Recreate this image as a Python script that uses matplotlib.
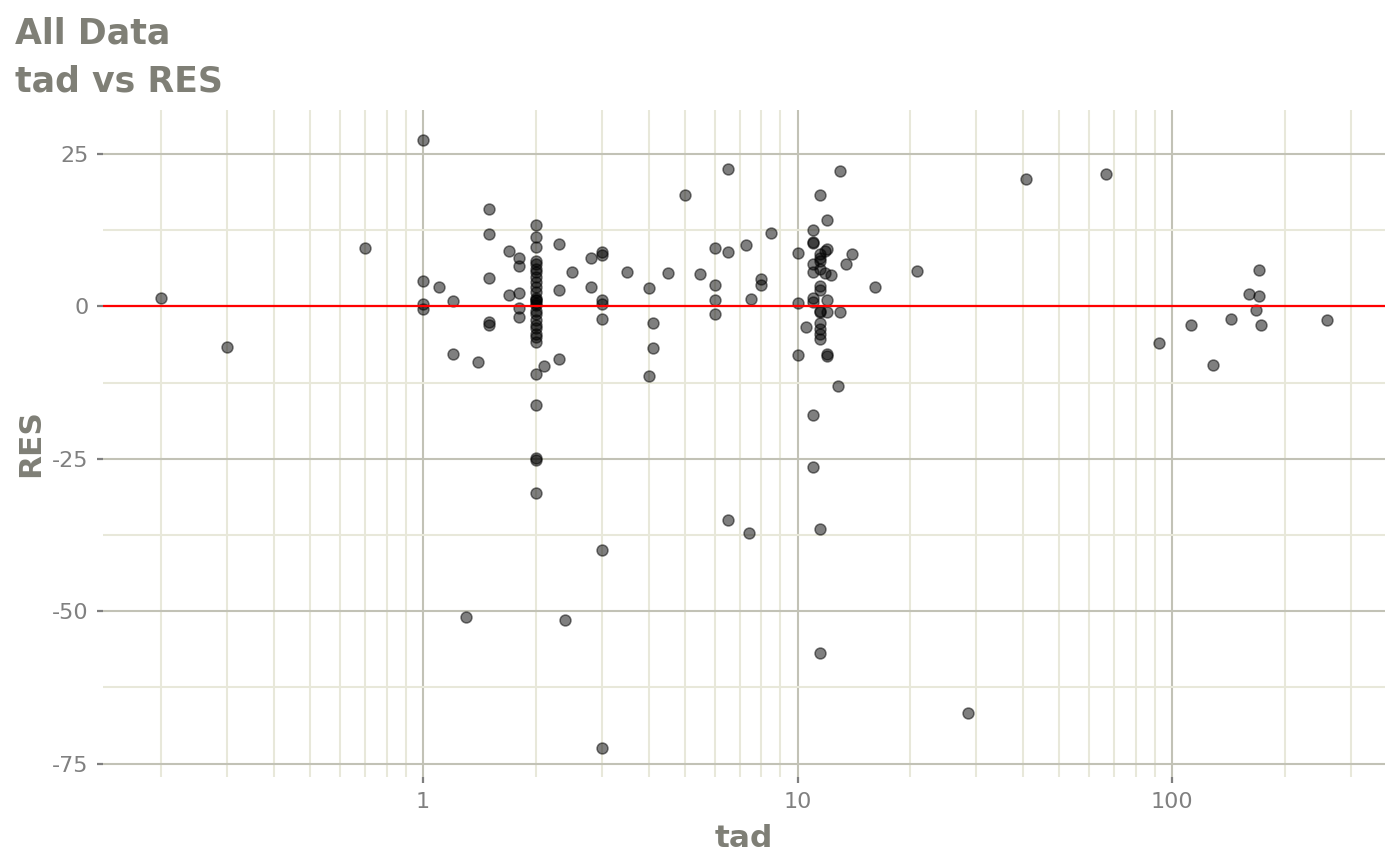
import matplotlib
matplotlib.use("Agg")
import matplotlib.pyplot as plt

# ---- data ----
tad = [
    0.2, 0.3, 0.7,
    1, 1, 1, 1,
    1.1, 1.2, 1.2, 1.3, 1.4,
    1.5, 1.5, 1.5, 1.5, 1.5,
    1.7, 1.7,
    1.8, 1.8, 1.8, 1.8, 1.8,
    2, 2, 2, 2, 2, 2, 2, 2, 2, 2, 2, 2, 2, 2, 2, 2, 2, 2, 2, 2, 2, 2, 2, 2, 2, 2, 2, 2, 2,
    2.1, 2.3, 2.3, 2.3, 2.4, 2.5, 2.8, 2.8,
    3, 3, 3, 3, 3, 3, 3,
    3.5, 4.0, 4.0, 4.1, 4.1, 4.5, 5.0, 5.5,
    6.0, 6.0, 6.0, 6.0,
    6.5, 6.5, 6.5,
    7.3, 7.4, 7.5, 8.0, 8.0, 8.5,
    10, 10, 10, 10.5,
    11.0, 11.0, 11.0, 11.0, 11.0, 11.0, 11.0, 11.0, 11.0,
    11.5, 11.5, 11.5, 11.5, 11.5, 11.5, 11.5, 11.5, 11.5, 11.5, 11.5, 11.5, 11.5, 11.5, 11.5,
    11.8, 11.8,
    12.0, 12.0, 12.0, 12.0, 12.0, 12.0,
    12.3, 12.85, 13.0, 13.0, 13.5, 14.0, 16.1, 20.8, 28.5, 40.6, 66.4,
    92, 112, 128.5, 143.5, 160, 170.4, 170.4, 167.3, 172.9, 259.4,
]
res = [
    1.3, -6.7, 9.5,
    27.2, 4.2, 0.4, -0.5,
    3.2, 0.9, -7.9, -50.9, -9.2,
    15.9, 11.9, 4.7, -2.6, -3.0,
    9.0, 1.9,
    7.9, 6.6, 2.2, -0.2, -1.7,
    13.3, 11.3, 9.8, 7.5, 7.0, 6.2, 5.6, 4.8, 4.0, 3.2, 2.4, 1.4, 1.1, 1.0, 0.6, 0.2, -0.7,
    -1.3, -2.3, -3.1, -3.5, -4.5, -5.0, -5.9, -11.1, -16.2, -24.9, -25.2, -30.6,
    -9.8, 10.2, 2.7, -8.7, -51.4, 5.6, 8.0, 3.1,
    8.9, 8.4, 1.0, 0.4, -2.1, -40.0, -72.4,
    5.6, 3.0, -11.5, -2.8, -6.9, 5.5, 18.2, 5.3,
    9.5, 3.5, 1.0, -1.2,
    22.6, 8.9, -35.1,
    10.0, -37.2, 1.2, 4.4, 3.5, 12.0,
    8.7, 0.6, -8.0, -3.4,
    12.5, 10.4, 10.6, 7.0, 5.6, 1.3, 0.7, -17.9, -26.3,
    18.2, 8.6, 8.0, 7.5, 6.2, 3.4, 2.6, -0.7, -1.0, -2.8, -3.7, -4.5, -5.3, -36.5, -56.9,
    5.4, 9.0,
    14.1, 9.45, 1.0, -0.9, -7.9, -8.2,
    5.1, -13.1, 22.2, -0.9, 6.9, 8.6, 3.1, 5.8, -66.7, 20.9, 21.75,
    -6.0, -3.1, -9.7, -2.1, 2.1, 6.0, 1.75, -0.55, -3.1, -2.2,
]

x_major = [1, 10, 100]
x_major_labels = ["1", "10", "100"]
y_major = [-75, -50, -25, 0, 25]
y_major_labels = ["-75", "-50", "-25", "0", "25"]
y_minor = [-62.5, -37.5, -12.5, 12.5]

title_lines = ["All Data", "tad vs RES"]
xlabel = "tad"
ylabel = "RES"

XLIM = (0.1398, 370)
YLIM = (-77.2, 32.2)
x_minor = [m * d for d in (0.1, 1, 10, 100) for m in range(2, 10)
           if XLIM[0] <= m * d <= XLIM[1]]

# ---- styling ----
TXT = "#7f7f76"
TICKTXT = "#808080"
MAJ = "#c2c2b6"
MIN = "#e8e8da"

W, H = 1400, 865
fig = plt.figure(figsize=(W / 100, H / 100), dpi=100)
L, R, T, B = 103, 1385, 110, 777
ax = fig.add_axes([L / W, 1 - B / H, (R - L) / W, (B - T) / H])
ax.set_xscale("log")

ax.set_xticks(x_major)
ax.set_xticklabels(x_major_labels)
ax.set_xticks(x_minor, minor=True)
ax.set_xticklabels([], minor=True)
ax.set_yticks(y_major)
ax.set_yticklabels(y_major_labels)
ax.set_yticks(y_minor, minor=True)
ax.set_xlim(*XLIM)
ax.set_ylim(*YLIM)

ax.grid(which="major", color=MAJ, linewidth=1.5, zorder=0)
ax.grid(which="minor", color=MIN, linewidth=1.5, zorder=0)
ax.set_axisbelow(True)
for s in ax.spines.values():
    s.set_visible(False)

ax.tick_params(which="major", length=4.5, width=1.6, color="#7f7f7f",
               labelsize=16, labelcolor=TICKTXT, pad=6)
ax.tick_params(which="minor", length=0)

ax.scatter(tad, res, s=62, facecolor=(0, 0, 0, 0.5), edgecolor=(0, 0, 0, 0.5),
           linewidth=1.1, zorder=2)
ax.axhline(0, color="#ff0000", linewidth=1.6, zorder=3)

fig.text(15 / W, 1 - 44 / H, title_lines[0], fontsize=25, fontweight="bold",
         color=TXT, ha="left", va="baseline")
fig.text(15 / W, 1 - 91 / H, title_lines[1], fontsize=25, fontweight="bold",
         color=TXT, ha="left", va="baseline")
fig.text((L + R) / 2 / W, 1 - 847 / H, xlabel, fontsize=22.5, fontweight="bold",
         color=TXT, ha="center", va="baseline")
fig.text(31 / W, 1 - (T + B) / 2 / H, ylabel, fontsize=22.5, fontweight="bold",
         color=TXT, ha="center", va="center", rotation=90)

fig.savefig("out.png", dpi=100, facecolor="white")
